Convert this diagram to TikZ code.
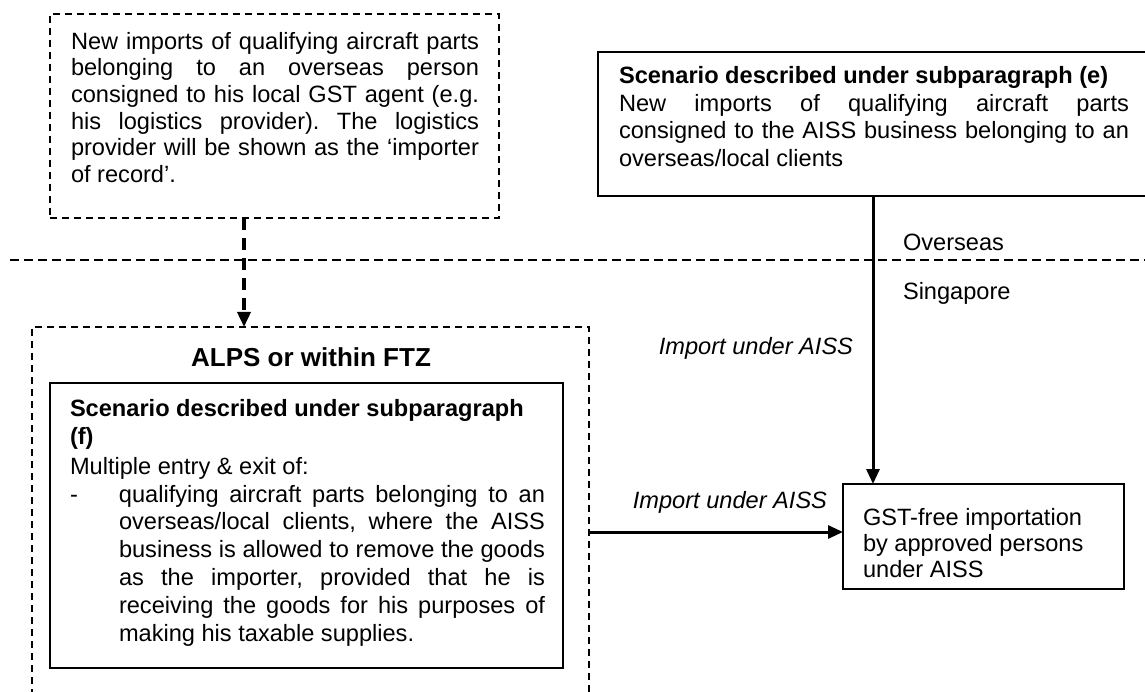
\documentclass[tikz,border=0pt]{standalone}
\usepackage{fontspec}
\setmainfont{Liberation Sans}
\usetikzlibrary{arrows.meta}
\hyphenpenalty=10000
\exhyphenpenalty=10000
\hbadness=10000
\frenchspacing
\newcommand{\jl}[2]{\makebox[#1][s]{#2}}
\begin{document}
\begin{tikzpicture}[x=1pt,y=-1pt,
  every node/.style={inner sep=0pt, outer sep=0pt},
  txt/.style={align=left, anchor=north west},
  thinbox/.style={draw, line width=1.4pt, dash pattern=on 7pt off 5pt, anchor=north west},
  solidbox/.style={draw, line width=1.6pt, anchor=north west},
  conn/.style={line width=3pt, -{Triangle[length=15pt,width=13pt]}},
  dconn/.style={line width=3.5pt, dash pattern=on 12pt off 8pt, -{Triangle[length=15pt,width=13pt]}},
  border/.style={line width=2pt, dash pattern=on 8.5pt off 5.5pt},
  lbl/.style={font=\fontsize{23.6}{27}\selectfont\itshape, anchor=base east},
  region/.style={font=\fontsize{23.6}{27}\selectfont, anchor=base west}
]
\clip (0,0) rectangle (1145,692);
\fill[white] (0,0) rectangle (1145,692);

% country border
\coordinate (bl) at (10,260);
\coordinate (br) at (1145,260);
\draw[border] (bl) -- (br);
\node[region] (overseas) at (903,250.5) {Overseas};
\node[region] (singapore) at (903,300) {Singapore};

% top-left: agent box
\node[thinbox, minimum width=449pt, minimum height=204pt] (agent) at (50,14) {};
\node[txt, font=\fontsize{23.6}{26.7}\selectfont] (agenttext) at (71,32) {%
\jl{408pt}{New imports of qualifying aircraft parts}\\
\jl{408pt}{belonging to an overseas person}\\
\jl{408pt}{consigned to his local GST agent (e.g.}\\
\jl{408pt}{his logistics provider). The logistics}\\
\jl{408pt}{provider will be shown as the ‘importer}\\
of record’.};

% top-right: scenario (e)
\node[solidbox, minimum width=580pt, minimum height=144pt] (scenE) at (598,52) {};
\node[txt, font=\fontsize{23.6}{27.7}\selectfont] (scenEtext) at (619,66.5) {%
\textbf{Scenario described under subparagraph (e)}\\
\jl{510pt}{New imports of qualifying aircraft parts}\\
\jl{510pt}{consigned to the AISS business belonging to an}\\
overseas/local clients};

% ALPS / FTZ region
\node[thinbox, minimum width=557pt, minimum height=420pt] (alps) at (32,327) {};
\node[font=\bfseries\fontsize{26}{30}\selectfont, anchor=base] (alpstitle) at (311,366) {ALPS or within FTZ};

% scenario (f)
\node[solidbox, minimum width=513pt, minimum height=285pt] (scenF) at (50,383) {};
\node[txt, font=\fontsize{23.6}{27.8}\selectfont] (scenFtext) at (70,399) {%
\textbf{Scenario described under subparagraph}\\[1pt]
\textbf{(f)}\\[1.5pt]
Multiple entry \& exit of:\\
\makebox[49pt][l]{-}\jl{426pt}{qualifying aircraft parts belonging to an}\\
\hspace*{49pt}\jl{426pt}{overseas/local clients, where the AISS}\\
\hspace*{49pt}\jl{426pt}{business is allowed to remove the goods}\\
\hspace*{49pt}\jl{426pt}{as the importer, provided that he is}\\
\hspace*{49pt}\jl{426pt}{receiving the goods for his purposes of}\\
\hspace*{49pt}making his taxable supplies.};

% GST-free box
\node[solidbox, minimum width=281pt, minimum height=105pt] (gst) at (843,484) {};
\node[txt, font=\fontsize{23.6}{26}\selectfont] (gsttext) at (863,508.5) {%
GST-free importation\\
by approved persons\\
under AISS};

% connectors
\coordinate (darr) at (244,0);
\draw[dconn] (agent.south -| darr) -- (alps.north -| darr);

\coordinate (vline) at (873,0);
\draw[conn] (scenE.south -| vline) -- (gst.north -| vline);
\node[lbl] (lblA) at (853,355) {Import under AISS};

\coordinate (hline) at (0,532);
\draw[conn] (alps.east |- hline) -- (gst.west |- hline);
\node[lbl] (lblB) at (827,508) {Import under AISS};
\end{tikzpicture}
\end{document}
